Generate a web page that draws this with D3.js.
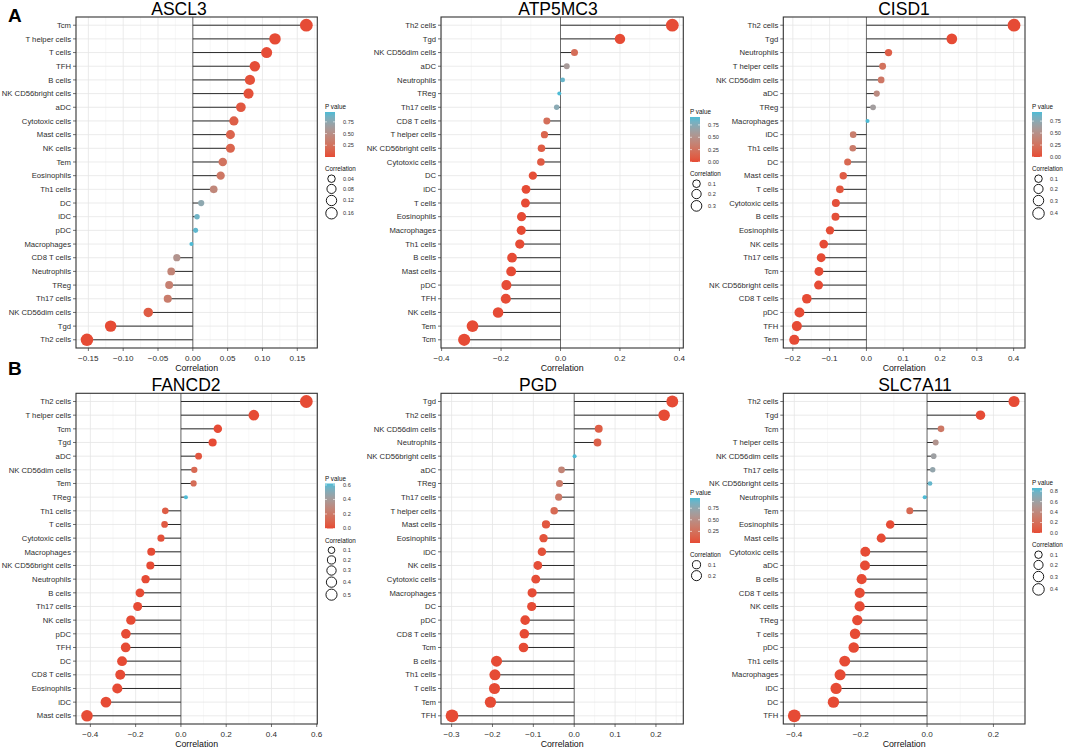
<!DOCTYPE html>
<meta charset="utf-8">
<style>
body { margin: 0; background: #fff; }
text { font-family: "Liberation Sans", Arial, sans-serif; }
.ylab { font-size: 7.7px; fill: #2e2e2e; }
.xlab { font-size: 8.1px; fill: #2e2e2e; }
.axtitle { font-size: 8.8px; fill: #111; }
.title { font-size: 17.5px; fill: #000; }
.legtitle { font-size: 6.3px; fill: #111; }
.leglab { font-size: 5.6px; fill: #333; }
.tag { font-size: 19px; font-weight: bold; fill: #000; }
</style>
<body></body>
<script src="https://cdn.jsdelivr.net/npm/d3@7"></script>
<script>

// ---- data: cell types in display order (top to bottom), correlation, p value ----
var cellsASCL3 = ["Tcm","T helper cells","T cells","TFH","B cells","NK CD56bright cells","aDC","Cytotoxic cells","Mast cells","NK cells","Tem","Eosinophils","Th1 cells","DC","iDC","pDC","Macrophages","CD8 T cells","Neutrophils","TReg","Th17 cells","NK CD56dim cells","Tgd","Th2 cells"];
var corASCL3 = [0.163,0.118,0.106,0.089,0.082,0.080,0.069,0.059,0.054,0.054,0.043,0.040,0.030,0.012,0.006,0.004,-0.002,-0.023,-0.031,-0.034,-0.036,-0.064,-0.118,-0.152];
var pASCL3 = [0.00002,0.002,0.005,0.018,0.03,0.034,0.068,0.12,0.15,0.155,0.26,0.29,0.43,0.75,0.87,0.92,0.96,0.54,0.41,0.37,0.34,0.09,0.002,0.00005];

var cellsATP5MC3 = ["Th2 cells","Tgd","NK CD56dim cells","aDC","Neutrophils","TReg","Th17 cells","CD8 T cells","T helper cells","NK CD56bright cells","Cytotoxic cells","DC","iDC","T cells","Eosinophils","Macrophages","Th1 cells","B cells","Mast cells","pDC","TFH","NK cells","Tem","Tcm"];
var corATP5MC3 = [0.376,0.200,0.047,0.021,0.007,-0.004,-0.013,-0.046,-0.054,-0.064,-0.066,-0.093,-0.116,-0.118,-0.131,-0.132,-0.137,-0.163,-0.166,-0.182,-0.184,-0.210,-0.296,-0.324];
var pATP5MC3 = [0,0,0.21,0.58,0.85,0.91,0.73,0.22,0.15,0.09,0.08,0.014,0.002,0.002,0.0005,0.0005,0.0003,0,0,0,0,0,0,0];

var cellsCISD1 = ["Th2 cells","Tgd","Neutrophils","T helper cells","NK CD56dim cells","aDC","TReg","Macrophages","iDC","Th1 cells","DC","Mast cells","T cells","Cytotoxic cells","B cells","Eosinophils","NK cells","Th17 cells","Tcm","NK CD56bright cells","CD8 T cells","pDC","TFH","Tem"];
var corCISD1 = [0.401,0.232,0.060,0.044,0.040,0.028,0.018,0.003,-0.036,-0.037,-0.051,-0.063,-0.072,-0.083,-0.084,-0.099,-0.116,-0.123,-0.129,-0.130,-0.162,-0.182,-0.189,-0.196];
var pCISD1 = [0,0,0.11,0.245,0.29,0.46,0.63,0.94,0.34,0.33,0.18,0.095,0.057,0.028,0.026,0.009,0.002,0.001,0.0006,0.0006,0,0,0,0];

var cellsFANCD2 = ["Th2 cells","T helper cells","Tcm","Tgd","aDC","NK CD56dim cells","Tem","TReg","Th1 cells","T cells","Cytotoxic cells","Macrophages","NK CD56bright cells","Neutrophils","B cells","Th17 cells","NK cells","pDC","TFH","DC","CD8 T cells","Eosinophils","iDC","Mast cells"];
var corFANCD2 = [0.554,0.322,0.163,0.140,0.078,0.059,0.056,0.022,-0.069,-0.072,-0.088,-0.131,-0.135,-0.156,-0.181,-0.191,-0.221,-0.243,-0.244,-0.260,-0.268,-0.281,-0.331,-0.415];
var pFANCD2 = [0,0,0,0.0002,0.039,0.12,0.14,0.62,0.068,0.057,0.02,0.0005,0.0003,0,0,0,0,0,0,0,0,0,0,0];

var cellsPGD = ["Tgd","Th2 cells","NK CD56dim cells","Neutrophils","NK CD56bright cells","aDC","TReg","Th17 cells","T helper cells","Mast cells","Eosinophils","iDC","NK cells","Cytotoxic cells","Macrophages","DC","pDC","CD8 T cells","Tcm","B cells","Th1 cells","T cells","Tem","TFH"];
var corPGD = [0.240,0.220,0.060,0.057,0.001,-0.031,-0.036,-0.038,-0.049,-0.069,-0.075,-0.079,-0.089,-0.094,-0.103,-0.104,-0.120,-0.122,-0.124,-0.190,-0.194,-0.195,-0.205,-0.299];
var pPGD = [0.00001,0.00002,0.11,0.13,0.97,0.41,0.34,0.315,0.195,0.068,0.047,0.037,0.018,0.013,0.006,0.006,0.0015,0.0012,0.001,0.00001,0.00001,0.00001,0.00001,0.000001];

var cellsSLC7A11 = ["Th2 cells","Tgd","Tcm","T helper cells","NK CD56dim cells","Th17 cells","NK CD56bright cells","Neutrophils","Tem","Eosinophils","Mast cells","Cytotoxic cells","aDC","B cells","CD8 T cells","NK cells","TReg","T cells","pDC","Th1 cells","Macrophages","iDC","DC","TFH"];
var corSLC7A11 = [0.262,0.161,0.042,0.026,0.020,0.017,0.009,-0.007,-0.052,-0.111,-0.138,-0.186,-0.187,-0.197,-0.203,-0.203,-0.210,-0.217,-0.221,-0.248,-0.262,-0.274,-0.282,-0.400];
var pSLC7A11 = [0,0,0.27,0.49,0.60,0.65,0.81,0.86,0.17,0.003,0.0003,0,0,0,0,0,0,0,0,0,0,0,0,0];

// ---- tick labels / legend breaks ----
var genes = ["ASCL3","ATP5MC3","CISD1","FANCD2","PGD","SLC7A11"];
var xTicks = [
  [-0.15,-0.10,-0.05,0,0.05,0.10,0.15],
  [-0.4,-0.2,0,0.2,0.4],
  [-0.2,-0.1,0,0.1,0.2,0.3,0.4],
  [-0.4,-0.2,0,0.2,0.4,0.6],
  [-0.3,-0.2,-0.1,0,0.1,0.2],
  [-0.4,-0.2,0,0.2]
];
var xFormat = [".2f",".1f",".1f",".1f",".1f",".1f"];
var pTicks = [
  [0,0.25,0.5,0.75],
  [0,0.25,0.5,0.75],
  [0,0.25,0.5,0.75],
  [0,0.2,0.4,0.6],
  [0,0.25,0.5,0.75],
  [0,0.2,0.4,0.6,0.8]
];
var pFormat = [".2f",".2f",".2f",".1f",".2f",".1f"];
var sizeBreaks = [
  [0.04,0.08,0.12,0.16],
  [0.1,0.2,0.3],
  [0.1,0.2,0.3,0.4],
  [0.1,0.2,0.3,0.4,0.5],
  [0.1,0.2],
  [0.1,0.2,0.3,0.4]
];
var sizeFormat = [".2f",".1f",".1f",".1f",".1f",".1f"];
// x limits: null = data range expanded by 5%
var xLimits = [null,[-0.402,0.413],null,null,null,null];

var cellLists = [cellsASCL3,cellsATP5MC3,cellsCISD1,cellsFANCD2,cellsPGD,cellsSLC7A11];
var corLists = [corASCL3,corATP5MC3,corCISD1,corFANCD2,corPGD,corSLC7A11];
var pLists = [pASCL3,pATP5MC3,pCISD1,pFANCD2,pPGD,pSLC7A11];

// ---- layout of the six panels ----
var layout = [
  {left:76,    right:317.3, top:17,    bottom:348, titleX:179, legX:325,  legY:109},
  {left:441,   right:683.3, top:17,    bottom:348, titleX:558, legX:690,  legY:114},
  {left:783.3, right:1025,  top:17,    bottom:348, titleX:904, legX:1032, legY:109},
  {left:76,    right:317.3, top:393.3, bottom:724, titleX:186, legX:325,  legY:480.5},
  {left:441,   right:683.3, top:393.3, bottom:724, titleX:538, legX:690,  legY:495},
  {left:783.3, right:1025,  top:393.3, bottom:724, titleX:915, legX:1032, legY:485}
];

var lowCol = "#E64B35", highCol = "#4DBBD5";

var svg = d3.select("body").append("svg")
    .attr("width", 1065)
    .attr("height", 751);

var defs = svg.append("defs");

svg.append("text").attr("class","tag").attr("x",8).attr("y",22).text("A");
svg.append("text").attr("class","tag").attr("x",8).attr("y",375).text("B");

function sizeToDiam(s) { return 1.75 * s + 2.3; }

genes.forEach(function(gene, k) {
  var L = layout[k];
  var cells = cellLists[k], cor = corLists[k], pv = pLists[k];
  var data = cells.map(function(c, i) { return {cell: c, r: cor[i], p: pv[i], a: Math.abs(cor[i])}; });

  var ext = d3.extent(cor);
  var pad = (ext[1] - ext[0]) * 0.05;
  var dom = xLimits[k] || [ext[0] - pad, ext[1] + pad];

  var x = d3.scaleLinear().domain(dom).range([L.left, L.right]);
  var y = d3.scalePoint().domain(cells).range([L.top, L.bottom]).padding(0.6);

  var pExt = d3.extent(pv);
  var col = d3.scaleLinear().domain(pExt).range([lowCol, highCol]).interpolate(d3.interpolateLab);

  var aExt = d3.extent(data, function(d) { return d.a; });
  var aLin = d3.scaleLinear().domain(aExt).range([0, 1]).clamp(true);
  var sz = d3.scaleLinear().domain([0, 1]).range([1, 6]);
  function diam(v) { return sizeToDiam(sz(Math.sqrt(aLin(v)))); }

  var g = svg.append("g");

  // grid
  var ticks = xTicks[k];
  var step = ticks[1] - ticks[0];
  var minors = [];
  for (var m = ticks[0] - step / 2; m <= ticks[ticks.length - 1] + step / 2 + 1e-9; m += step) {
    if (m >= dom[0] && m <= dom[1]) minors.push(m);
  }
  g.selectAll(".minor").data(minors).enter().append("line")
      .attr("x1", function(d) { return x(d); }).attr("x2", function(d) { return x(d); })
      .attr("y1", L.top).attr("y2", L.bottom)
      .style("stroke", "#EDEDED").style("stroke-width", 0.45);
  g.selectAll(".major").data(ticks).enter().append("line")
      .attr("x1", function(d) { return x(d); }).attr("x2", function(d) { return x(d); })
      .attr("y1", L.top).attr("y2", L.bottom)
      .style("stroke", "#E6E6E6").style("stroke-width", 0.8);
  g.selectAll(".hgrid").data(cells).enter().append("line")
      .attr("x1", L.left).attr("x2", L.right)
      .attr("y1", function(d) { return y(d); }).attr("y2", function(d) { return y(d); })
      .style("stroke", "#E6E6E6").style("stroke-width", 0.8);

  // zero line
  g.append("line")
      .attr("x1", x(0)).attr("x2", x(0))
      .attr("y1", L.top).attr("y2", L.bottom)
      .style("stroke", "#6b6b6b").style("stroke-width", 1);

  // lollipops
  g.selectAll(".seg").data(data).enter().append("line")
      .attr("x1", x(0)).attr("x2", function(d) { return x(d.r); })
      .attr("y1", function(d) { return y(d.cell); }).attr("y2", function(d) { return y(d.cell); })
      .style("stroke", "#2a2a2a").style("stroke-width", 1);

  g.selectAll(".dot").data(data).enter().append("circle")
      .attr("cx", function(d) { return x(d.r); })
      .attr("cy", function(d) { return y(d.cell); })
      .attr("r", function(d) { return diam(d.a) / 2; })
      .style("fill", function(d) { return col(d.p); });

  // border
  g.append("rect")
      .attr("x", L.left).attr("y", L.top)
      .attr("width", L.right - L.left).attr("height", L.bottom - L.top)
      .style("fill", "none").style("stroke", "#333").style("stroke-width", 1.1);

  // y axis
  g.selectAll(".ytick").data(cells).enter().append("line")
      .attr("x1", L.left - 3).attr("x2", L.left)
      .attr("y1", function(d) { return y(d); }).attr("y2", function(d) { return y(d); })
      .style("stroke", "#333").style("stroke-width", 0.7);
  g.selectAll(".ylab").data(cells).enter().append("text")
      .attr("class", "ylab")
      .attr("x", L.left - 5)
      .attr("y", function(d) { return y(d); })
      .attr("dy", "0.35em")
      .style("text-anchor", "end")
      .text(function(d) { return d; });

  // x axis
  var fmt = d3.format(xFormat[k]);
  g.selectAll(".xtick").data(ticks).enter().append("line")
      .attr("x1", function(d) { return x(d); }).attr("x2", function(d) { return x(d); })
      .attr("y1", L.bottom).attr("y2", L.bottom + 3)
      .style("stroke", "#333").style("stroke-width", 0.7);
  g.selectAll(".xlab").data(ticks).enter().append("text")
      .attr("class", "xlab")
      .attr("x", function(d) { return x(d); })
      .attr("y", L.bottom + 12.5)
      .style("text-anchor", "middle")
      .text(function(d) { return fmt(d).replace("-", "\u2212"); });
  g.append("text")
      .attr("class", "axtitle")
      .attr("x", (L.left + L.right) / 2)
      .attr("y", L.bottom + 23)
      .style("text-anchor", "middle")
      .text("Correlation");

  // title
  g.append("text")
      .attr("class", "title")
      .attr("x", L.titleX)
      .attr("y", L.top - 2.3)
      .style("text-anchor", "middle")
      .text(gene);

  // legend: p value colour bar
  var lg = svg.append("g");
  lg.append("text").attr("class", "legtitle")
      .attr("x", L.legX).attr("y", L.legY).text("P value");
  var barTop = L.legY + 3, barH = 45, barW = 10;
  var gid = "grad" + k;
  var grad = defs.append("linearGradient").attr("id", gid)
      .attr("x1", 0).attr("y1", 1).attr("x2", 0).attr("y2", 0);
  d3.range(0, 1.0001, 0.1).forEach(function(t) {
    grad.append("stop").attr("offset", t)
        .attr("stop-color", col(pExt[0] + t * (pExt[1] - pExt[0])));
  });
  lg.append("rect").attr("x", L.legX).attr("y", barTop)
      .attr("width", barW).attr("height", barH)
      .style("fill", "url(#" + gid + ")");
  var pb = d3.scaleLinear().domain(pExt).range([barTop + barH, barTop]);
  var pt = pTicks[k].filter(function(v) { return v >= pExt[0] && v <= pExt[1]; });
  var pf = d3.format(pFormat[k]);
  pt.forEach(function(v) {
    lg.append("line").attr("x1", L.legX).attr("x2", L.legX + 2)
        .attr("y1", pb(v)).attr("y2", pb(v)).style("stroke", "#fff").style("stroke-width", 0.6);
    lg.append("line").attr("x1", L.legX + barW - 2).attr("x2", L.legX + barW)
        .attr("y1", pb(v)).attr("y2", pb(v)).style("stroke", "#fff").style("stroke-width", 0.6);
    lg.append("text").attr("class", "leglab")
        .attr("x", L.legX + barW + 8).attr("y", pb(v)).attr("dy", "0.35em")
        .text(pf(v));
  });

  // legend: correlation size keys
  var corrY = barTop + barH + 14;
  lg.append("text").attr("class", "legtitle")
      .attr("x", L.legX).attr("y", corrY).text("Correlation");
  var sb = sizeBreaks[k], sf = d3.format(sizeFormat[k]);
  var keyH = sb.map(function(v) { return Math.max(diam(v) * 0.92 + 1.6, 9.5); });
  var cy = corrY + 7.7;
  sb.forEach(function(v, i) {
    if (i > 0) cy += (keyH[i - 1] + keyH[i]) / 2;
    lg.append("circle").attr("cx", L.legX + 6.5).attr("cy", cy)
        .attr("r", diam(v) * 0.9 / 2)
        .style("fill", "#fff").style("stroke", "#000").style("stroke-width", 0.9);
    lg.append("text").attr("class", "leglab")
        .attr("x", L.legX + 18).attr("y", cy).attr("dy", "0.35em")
        .text(sf(v));
  });
});

</script>
